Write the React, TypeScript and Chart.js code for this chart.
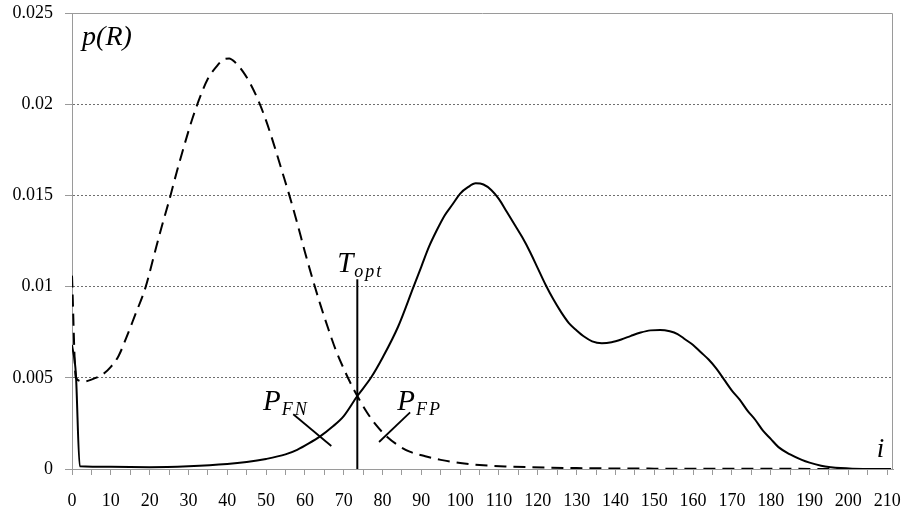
import React, { useEffect, useRef } from "react";
import { Chart, registerables } from "chart.js";

Chart.register(...registerables);

// Dashed curve (background distribution): [i, p(R)]
const dashedI = [0, 1, 3, 5, 8, 10, 12, 14, 16, 19, 21, 23, 25, 27, 29, 31, 33, 35, 37, 39, 40.5, 42, 44, 46, 48, 50, 52, 54, 56, 58, 60, 62, 64, 66, 68, 70, 72, 73.5, 76, 78, 80.5, 84, 87, 91, 95, 100, 105, 112, 118, 130, 150, 180, 211];
const dashedP = [0.0106, 0.005, 0.0048, 0.0049, 0.0052, 0.0056, 0.0062, 0.0072, 0.0083, 0.01, 0.0116, 0.0132, 0.0147, 0.0163, 0.0178, 0.0192, 0.0204, 0.0214, 0.022, 0.02245, 0.0225, 0.0223, 0.0218, 0.0211, 0.0202, 0.0191, 0.0178, 0.0164, 0.015, 0.0135, 0.0119, 0.0104, 0.009, 0.0077, 0.0065, 0.0055, 0.0046, 0.004, 0.0031, 0.0025, 0.0019, 0.0013, 0.00095, 0.0007, 0.0005, 0.00033, 0.00022, 0.00014, 0.0001, 0.00005, 0.00002, 0.00001, 0];

// Solid curve (object distribution): [i, p(R)]
const solidI = [0, 1, 2, 10, 20, 30, 40, 45, 50, 55, 58, 61, 64, 67, 70, 73.5, 77, 80, 84, 88, 90, 92, 94, 96, 98, 100, 102, 104, 106, 108, 110, 112, 114, 116, 118, 120, 122, 124, 126, 128, 130, 132, 134, 136.5, 139, 141.5, 144, 146.5, 149, 151.5, 154, 156, 158, 160, 162, 164, 166, 168, 170, 172, 174, 176, 178, 180, 182, 185, 188, 190, 193, 195.5, 198, 201, 211];
const solidP = [0.0068, 0.0052, 0.00015, 0.00012, 0.0001, 0.00015, 0.00027, 0.00038, 0.00055, 0.0008, 0.00105, 0.0014, 0.0018, 0.0023, 0.0029, 0.004, 0.005, 0.0061, 0.0078, 0.01, 0.0111, 0.0122, 0.0131, 0.0139, 0.0145, 0.0151, 0.01545, 0.01566, 0.0156, 0.0153, 0.0148, 0.0141, 0.0134, 0.0127, 0.0119, 0.011, 0.0101, 0.0093, 0.0086, 0.008, 0.0076, 0.00725, 0.007, 0.0069, 0.00695, 0.0071, 0.0073, 0.00748, 0.0076, 0.00762, 0.00755, 0.0074, 0.0071, 0.0068, 0.0064, 0.006, 0.0055, 0.0049, 0.0043, 0.0038, 0.0032, 0.0027, 0.0021, 0.00165, 0.0012, 0.0008, 0.0005, 0.00035, 0.00018, 0.0001, 0.00005, 0.00002, 0];

// Threshold line and pointer lines
const tOptI = [73.5, 73.5];
const tOptP = [0, 0.0104];
const pfnI = [57, 66.8];
const pfnP = [0.003, 0.00126];
const pfpI = [87.1, 79.1];
const pfpP = [0.0031, 0.00148];

// Axis setup
const xMin = 0;
const xMax = 211.5;
const xTickStep = 5;
const xLabelStep = 10;
const yMin = 0;
const yMax = 0.025;
const yTickStep = 0.005;

// Annotation texts
const annoText = [
  { main: "p(R)", sub: "", x: 2.6, y: 0.02325, size: 28 },
  { main: "T", sub: "opt", x: 68.3, y: 0.0108, size: 29 },
  { main: "P", sub: "FN", x: 49.2, y: 0.00323, size: 29 },
  { main: "P", sub: "FP", x: 83.8, y: 0.00323, size: 29 },
  { main: "i", sub: "", x: 207.3, y: 0.00066, size: 27 },
];

const pts = (xs: number[], ys: number[]) => xs.map((x, k) => ({ x, y: ys[k] }));

const SERIF = "'Liberation Serif', 'Times New Roman', serif";
const GRAY = "#9a9a9a";

export default function App() {
  const ref = useRef<HTMLCanvasElement | null>(null);

  useEffect(() => {
    if (!ref.current) return;

    const framePlugin = {
      id: "frame",
      beforeDatasetsDraw(chart: any) {
        const { ctx, chartArea } = chart;
        ctx.save();
        ctx.strokeStyle = GRAY;
        ctx.lineWidth = 1;
        ctx.setLineDash([]);
        ctx.beginPath();
        ctx.moveTo(chartArea.left + 0.5, chartArea.bottom);
        ctx.lineTo(chartArea.left + 0.5, chartArea.top + 0.5);
        ctx.lineTo(chartArea.right - 0.5, chartArea.top + 0.5);
        ctx.lineTo(chartArea.right - 0.5, chartArea.bottom);
        ctx.stroke();
        ctx.restore();
      },
    };

    const textPlugin = {
      id: "annoText",
      afterDatasetsDraw(chart: any) {
        const { ctx } = chart;
        const xs = chart.scales.x;
        const ys = chart.scales.y;
        ctx.save();
        ctx.fillStyle = "#000";
        ctx.textBaseline = "alphabetic";
        ctx.textAlign = "left";
        annoText.forEach((a) => {
          const px = xs.getPixelForValue(a.x);
          const py = ys.getPixelForValue(a.y);
          ctx.font = `italic ${a.size}px ${SERIF}`;
          ctx.fillText(a.main, px, py);
          if (a.sub) {
            const w = ctx.measureText(a.main).width;
            const subSize = Math.round(a.size * 0.62);
            ctx.font = `italic ${subSize}px ${SERIF}`;
            let cx = px + w + 1;
            for (const ch of a.sub) {
              ctx.fillText(ch, cx, py + a.size * 0.18);
              cx += ctx.measureText(ch).width + 2;
            }
          }
        });
        ctx.restore();
      },
    };

    const chart = new Chart(ref.current, {
      type: "line",
      data: {
        datasets: [
          {
            data: pts(dashedI, dashedP),
            borderColor: "#000",
            borderWidth: 2,
            borderDash: [12, 7],
            pointRadius: 0,
            cubicInterpolationMode: "monotone",
            fill: false,
          },
          {
            data: pts(solidI, solidP),
            borderColor: "#000",
            borderWidth: 2,
            pointRadius: 0,
            cubicInterpolationMode: "monotone",
            fill: false,
          },
          {
            data: pts(tOptI, tOptP),
            borderColor: "#000",
            borderWidth: 2,
            pointRadius: 0,
            tension: 0,
          },
          {
            data: pts(pfnI, pfnP),
            borderColor: "#000",
            borderWidth: 1.8,
            pointRadius: 0,
            tension: 0,
          },
          {
            data: pts(pfpI, pfpP),
            borderColor: "#000",
            borderWidth: 1.8,
            pointRadius: 0,
            tension: 0,
          },
        ],
      },
      options: {
        animation: false,
        responsive: true,
        maintainAspectRatio: false,
        layout: { padding: { top: 13, right: 11, left: 0, bottom: 0 } },
        plugins: {
          legend: { display: false },
          tooltip: { enabled: false },
        },
        scales: {
          x: {
            type: "linear",
            min: xMin,
            max: xMax,
            afterFit: (s: any) => {
              s.height = 44;
              s.paddingLeft = 0;
              s.paddingRight = 0;
            },
            grid: {
              drawOnChartArea: false,
              drawTicks: true,
              tickLength: 6,
              tickColor: GRAY,
              color: GRAY,
            },
            border: { color: GRAY, width: 1 },
            ticks: {
              stepSize: xTickStep,
              includeBounds: false,
              autoSkip: false,
              maxRotation: 0,
              minRotation: 0,
              padding: 15,
              color: "#000",
              font: { family: SERIF, size: 18 },
              callback: (v: any) => (Math.round(Number(v)) % xLabelStep === 0 ? String(Math.round(Number(v))) : ""),
            },
          },
          y: {
            type: "linear",
            min: yMin,
            max: yMax,
            afterFit: (s: any) => {
              s.width = 72;
              s.paddingTop = 0;
              s.paddingBottom = 0;
            },
            grid: {
              drawOnChartArea: true,
              drawTicks: true,
              tickLength: 7,
              tickColor: GRAY,
              tickBorderDash: [],
              color: (c: any) => {
                const v = c.tick ? c.tick.value : 0;
                return v <= 0 || v >= yMax - 1e-9 ? "rgba(0,0,0,0)" : "#6f6f6f";
              },
            },
            border: { color: GRAY, width: 1, dash: [2, 2] },
            ticks: {
              stepSize: yTickStep,
              padding: 12,
              color: "#000",
              font: { family: SERIF, size: 18 },
              callback: (v: any) => String(Number(Number(v).toFixed(3))),
            },
          },
        },
      },
      plugins: [framePlugin, textPlugin],
    } as any);

    return () => chart.destroy();
  }, []);

  return (
    <div style={{ position: "fixed", left: 0, top: 0, width: 904, height: 513, background: "#fff" }}>
      <canvas ref={ref} />
    </div>
  );
}
